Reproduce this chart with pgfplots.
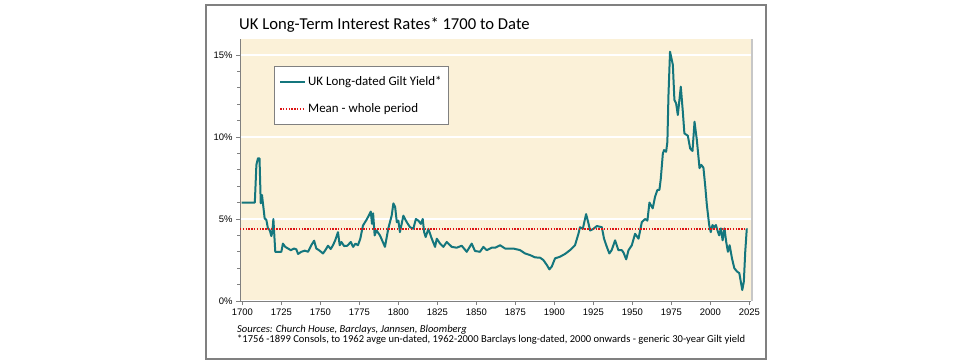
\documentclass[border=0pt]{standalone}
\usepackage{pgfplots}
\pgfplotsset{compat=1.18}
\usepackage{fontspec}
\setmainfont{Carlito}
\newfontfamily\arialfont{Liberation Sans}
\definecolor{bgc}{RGB}{251,241,216}
\definecolor{teal1}{RGB}{20,118,125}
\definecolor{meanred}{RGB}{222,20,20}
\definecolor{framegray}{RGB}{128,128,128}
\begin{document}
\begin{tikzpicture}[x=1bp,y=1bp]
\path[use as bounding box, fill=white] (0,0) rectangle (965,363);
\draw[framegray, line width=1.1bp] (206,4) rectangle (766,358);
\node[anchor=base west, inner sep=0pt, font=\fontsize{16.7}{19}\selectfont] at (239,334) {UK Long-Term Interest Rates* 1700 to Date};
\node[anchor=base west, inner sep=0pt, font=\fontsize{10.6}{12}\selectfont\itshape] at (237,31) {Sources: Church House, Barclays, Jannsen, Bloomberg};
\node[anchor=base west, inner sep=0pt, font=\fontsize{10.6}{12}\selectfont] at (237,20.5) {*1756 -1899 Consols, to 1962 avge un-dated, 1962-2000 Barclays long-dated, 2000 onwards - generic 30-year Gilt yield};
\begin{axis}[
  at={(240bp,62bp)}, anchor=south west,
  scale only axis, width=511bp, height=262.4bp,
  xmin=1698.5, xmax=2026, ymin=0, ymax=16,
  clip=false,
  axis background/.style={fill=bgc},
  axis x line*=bottom, axis y line*=left,
  axis line style={draw=framegray, line width=0.8bp},
  xtick={1700,1725,...,2025}, ytick={0,5,10,15},
  minor y tick num=4,
  tick align=outside, major tick length=4bp, minor tick length=3bp,
  tick style={draw=framegray, line width=0.8bp},
  ymajorgrids, grid style={white, line width=1.3bp},
  /pgf/number format/assume math mode=true,
  /pgf/number format/1000 sep={},
  xticklabel style={font=\arialfont\fontsize{9.5}{11}\selectfont},
  yticklabel style={font=\arialfont\fontsize{9.5}{11}\selectfont},
  yticklabel={\pgfmathprintnumber{\tick}\%},
  legend style={at={(0.0665,0.8956)}, anchor=north west, draw=framegray, fill=white,
    font=\fontsize{13}{15}\selectfont, inner xsep=5bp, inner ysep=8bp,
    row sep=13bp, /tikz/every even column/.append style={column sep=1bp}},
  legend cell align=left,
  legend image code/.code={\draw[#1] (0bp,0bp) -- (25bp,0bp);},
]
\addplot[draw=teal1, line width=2bp, line join=round] coordinates {
(1699.5,6.0) (1708,6.0) (1709,8.3) (1710,8.7) (1711,8.7) (1711.8,5.96) (1712.6,6.46) (1713.2,5.96)
(1714.3,5.04) (1715.4,4.94) (1716.4,4.43) (1717.5,4.33) (1718.6,3.96) (1719.2,4.2) (1719.9,5.0)
(1721.1,3.0) (1725,3.0) (1726,3.5) (1727.5,3.3) (1729.3,3.2) (1731,3.1) (1733.1,3.2) (1734.6,3.15)
(1735.7,2.87) (1737.8,3.0) (1740,3.07) (1742.1,3.0) (1744.2,3.4) (1746,3.68) (1747.4,3.2) (1749.1,3.1)
(1751.7,2.9) (1753.2,3.1) (1754.9,3.37) (1756.6,3.17) (1758.1,3.4) (1759.6,3.72) (1761.3,4.2)
(1762.4,3.4) (1763.5,3.6) (1765.2,3.35) (1767.3,3.37) (1769.5,3.6) (1771,3.3) (1772.5,3.5)
(1774.1,3.4) (1775.6,3.8) (1777.3,4.6) (1779.5,4.94) (1781,5.2) (1782.3,5.45) (1783.1,4.7)
(1783.8,5.35) (1784.8,4.0) (1786,4.3) (1788.2,4.0) (1791.4,3.3) (1793.6,4.45) (1795.7,5.2)
(1796.8,5.95) (1797.9,5.75) (1799,4.8) (1800,4.9) (1801,4.2) (1803.2,5.2) (1805.4,4.8) (1807.5,4.5)
(1809.6,4.4) (1811.2,5.0) (1812.8,4.9) (1814.4,4.7) (1815.6,5.0) (1816.5,4.2) (1817.5,3.9)
(1819.2,4.4) (1821.4,3.8) (1823.5,3.3) (1824.6,3.8) (1826.7,3.5) (1828.8,3.3) (1831,3.6)
(1834.2,3.3) (1837.4,3.25) (1840.6,3.37) (1843.8,3.0) (1847,3.5) (1849.1,3.05) (1852.3,3.0)
(1854.5,3.3) (1856.6,3.1) (1859.8,3.25) (1862,3.25) (1865.2,3.4) (1868.4,3.2) (1873.7,3.2)
(1878,3.1) (1881.2,2.9) (1884.4,2.8) (1887.6,2.66) (1890.8,2.64) (1892.9,2.5) (1895.1,2.2)
(1896.8,1.93) (1898.3,2.1) (1900.4,2.6) (1903.6,2.7) (1906.8,2.87) (1910,3.1) (1913.2,3.4)
(1915.4,4.1) (1916.4,4.5) (1918.2,4.4) (1920.3,5.3) (1921.4,4.9) (1922.9,4.3) (1925,4.4)
(1927.2,4.57) (1930.4,4.5) (1931.8,3.8) (1933.6,3.3) (1935.2,2.9) (1936.7,3.1) (1938.9,3.7)
(1941,3.1) (1943.2,3.1) (1944.3,2.95) (1946,2.54) (1947.5,3.1) (1949.6,3.4) (1951.7,4.1)
(1953.9,3.8) (1956,4.8) (1958.1,5.0) (1959.6,4.9) (1960.9,6.0) (1963,5.65) (1964.5,6.36)
(1966,6.77) (1967.3,6.77) (1968.2,7.48) (1969.5,9.0) (1970.3,9.2) (1971.6,9.1) (1972.4,9.7)
(1973.1,12.56) (1974.1,15.2) (1975.9,14.4) (1976.9,12.26) (1978,12.05) (1979.1,11.34) (1981,13.07)
(1982.3,11.54) (1983.3,10.22) (1985.5,10.08) (1987,9.3) (1988.5,9.15) (1989.8,10.93) (1991.3,9.8)
(1993,8.1) (1994.1,8.3) (1995.5,8.13) (1996.6,7.07) (1997.7,5.85) (1999.2,4.63) (2000.2,4.2)
(2001.3,4.63) (2002.4,4.5) (2003.5,4.63) (2004.5,4.3) (2005.6,4.0) (2006.7,4.43) (2007.8,3.7)
(2009,4.43) (2010.1,3.6) (2011.2,3.0) (2012.3,3.4) (2013.8,2.6) (2015.3,2.0) (2017,1.8)
(2018.5,1.7) (2019.6,1.1) (2020.4,0.67) (2021.4,1.18) (2022.3,3.0) (2023.3,4.43)
};
\addlegendentry{UK Long-dated Gilt Yield*}
\addplot[draw=meanred, line width=1.4bp, dash pattern=on 1.4bp off 1.4bp] coordinates {(1698.5,4.38) (2023.3,4.38)};
\addlegendentry{Mean - whole period}
\draw[black!22, line width=1.5bp, transform canvas={xshift=0.75bp}] (rel axis cs:1,0) -- (rel axis cs:1,1);
\end{axis}
\end{tikzpicture}
\end{document}
